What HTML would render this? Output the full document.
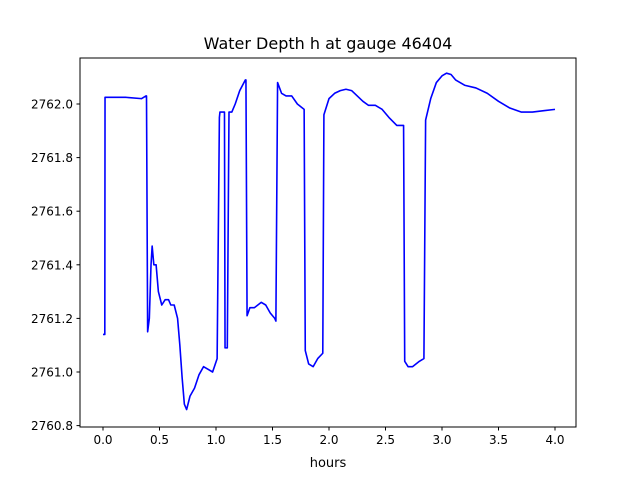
<!DOCTYPE html>
<html><head><meta charset="utf-8"><style>
body{margin:0;background:#fff;font-family:"Liberation Sans","DejaVu Sans",sans-serif}
</style></head><body>
<svg id="chart" width="640" height="480" xmlns="http://www.w3.org/2000/svg">
<rect width="640" height="480" fill="#fff"/>
<text x="328" y="49" text-anchor="middle" font-size="16" font-family="DejaVu Sans, sans-serif">Water Depth h at gauge 46404</text>
<g id="plot"></g>
<rect x="80" y="58" width="496" height="369" fill="none" stroke="#000" stroke-width="1"/>
<text x="328" y="467" text-anchor="middle" font-size="13" font-family="DejaVu Sans, sans-serif">hours</text>
</svg>
<script>
const hours=[0,0.016,0.018,0.2,0.34,0.38,0.385,0.395,0.41,0.425,0.435,0.45,0.47,0.49,0.52,0.55,0.58,0.6,0.63,0.66,0.68,0.7,0.72,0.74,0.77,0.81,0.85,0.89,0.93,0.97,1.01,1.03,1.035,1.06,1.075,1.08,1.1,1.115,1.14,1.17,1.21,1.26,1.265,1.275,1.3,1.34,1.4,1.44,1.48,1.52,1.53,1.545,1.58,1.62,1.67,1.72,1.78,1.79,1.82,1.86,1.9,1.945,1.955,2.0,2.05,2.1,2.15,2.2,2.25,2.3,2.35,2.41,2.47,2.53,2.6,2.66,2.67,2.7,2.74,2.8,2.84,2.855,2.9,2.95,3.0,3.04,3.08,3.12,3.2,3.3,3.4,3.5,3.6,3.7,3.8,3.9,4.0];
const depth=[2761.14,2761.14,2762.025,2762.025,2762.02,2762.03,2762.03,2761.15,2761.2,2761.4,2761.47,2761.4,2761.4,2761.3,2761.25,2761.27,2761.27,2761.25,2761.25,2761.2,2761.1,2760.98,2760.88,2760.86,2760.91,2760.94,2760.99,2761.02,2761.01,2761.0,2761.05,2761.95,2761.97,2761.97,2761.97,2761.09,2761.09,2761.97,2761.97,2762.0,2762.05,2762.09,2762.09,2761.21,2761.24,2761.24,2761.26,2761.25,2761.22,2761.2,2761.19,2762.08,2762.04,2762.03,2762.03,2762.0,2761.98,2761.08,2761.03,2761.02,2761.05,2761.07,2761.96,2762.02,2762.04,2762.05,2762.055,2762.05,2762.03,2762.01,2761.995,2761.995,2761.98,2761.95,2761.92,2761.92,2761.04,2761.02,2761.02,2761.04,2761.05,2761.94,2762.02,2762.08,2762.105,2762.115,2762.11,2762.09,2762.07,2762.06,2762.04,2762.01,2761.985,2761.97,2761.97,2761.975,2761.98];
const xTicks=[0,0.5,1,1.5,2,2.5,3,3.5,4];
const yTicks=[2760.8,2761.0,2761.2,2761.4,2761.6,2761.8,2762.0];
const NS="http://www.w3.org/2000/svg";
const X=v=>103+(v-0)*(555-103)/4;
const Y=v=>372-(v-2761.0)*(372-104)/1.0;
const g=document.getElementById('plot');
function mk(t,a){const e=document.createElementNS(NS,t);for(const k in a)e.setAttribute(k,a[k]);return e;}
xTicks.forEach(t=>{
 const l=mk('line',{x1:X(t),x2:X(t),y1:427,y2:430.5,stroke:'#000'});
 
 
 g.appendChild(l);
 const s=mk('text',{x:X(t),y:444,'text-anchor':'middle','font-size':'12','font-family':'DejaVu Sans, sans-serif'});
 
 
 s.textContent=t.toFixed(1);g.appendChild(s);
});
yTicks.forEach(t=>{
 const l=mk('line',{x1:76.5,x2:80,y1:Y(t),y2:Y(t),stroke:'#000'});
 
 
 g.appendChild(l);
 const s=mk('text',{x:73,y:Y(t)+4.5,'text-anchor':'end','font-size':'12','font-family':'DejaVu Sans, sans-serif'});
 
 
 s.textContent=t.toFixed(1);g.appendChild(s);
});
const p=mk('polyline',{points:hours.map((h,i)=>X(h)+','+Y(depth[i])).join(' '),fill:'none',stroke:'#0000ff','stroke-width':'1.6','stroke-linejoin':'round'});


g.appendChild(p);
</script>
</body></html>
